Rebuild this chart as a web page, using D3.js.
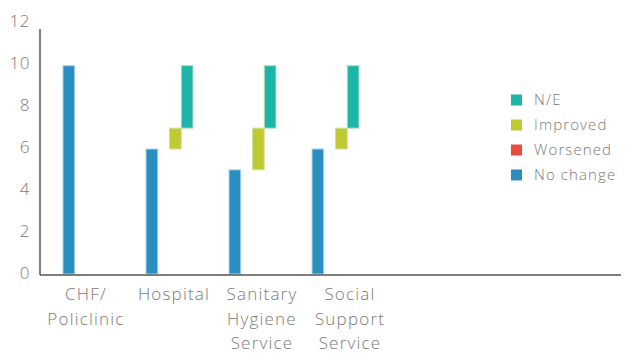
<!DOCTYPE html>
<html><head><meta charset="utf-8">
<script src="https://cdn.jsdelivr.net/npm/d3@7"></script>
<style>body{margin:0;background:#fff}text{font-family:"Open Sans",Lato,sans-serif;fill:#7a7a7a;font-weight:300}</style>
</head><body><svg id="c" width="629" height="353"></svg>
<script>
const categories = [["CHF/","Policlinic"],["Hospital"],["Sanitary","Hygiene","Service"],["Social","Support","Service"]];
const noChange = [10, 6, 5, 6];
const worsened = [0, 0, 0, 0];
const improved = [0, 1, 2, 1];
const notEvaluated = [0, 3, 3, 3];
const yTicks = [0, 2, 4, 6, 8, 10, 12];
const seriesNames = ["No change", "Worsened", "Improved", "N/E"];
const colors = ["#2a8fc0", "#e74c3c", "#bfca33", "#1db5a9"];
const strokes = ["#a9d6ea", "#f5b3ab", "#cfe39a", "#b7e3b0"];
const legendOrder = ["N/E", "Improved", "Worsened", "No change"];

const svg = d3.select("#c");
const slots = d3.range(7);
const x = d3.scaleBand().domain(slots).range([40, 621]).paddingInner(0).paddingOuter(0);
const sub = d3.scaleBand().domain(seriesNames).range([23, 70]);
const labelX = d3.scaleBand().domain(slots).range([42, 658]);
const y = d3.scaleLinear().domain([0, 12]).range([274, 24]);
const yLabel = d3.scaleLinear().domain([0, 12]).range([273, 21]);

// y tick labels
svg.append("g").selectAll("text").data(yTicks).join("text")
  .attr("x", 30).attr("y", d => yLabel(d)).attr("dy", "0.35em")
  .attr("text-anchor", "end").style("font-size", "17px").style("letter-spacing", "0.5px").text(d => d);

// bars
const all = [noChange, worsened, improved, notEvaluated];
categories.forEach((c, i) => {
  let base = 0;
  all.forEach((arr, s) => {
    const v = arr[i];
    const y0 = base, y1 = base + v;
    base = y1;
    if (v <= 0) return;
    svg.append("rect")
      .attr("x", x(i) + sub(seriesNames[s])).attr("width", sub.bandwidth())
      .attr("y", y(y1)).attr("height", y(y0) - y(y1))
      .attr("fill", colors[s]).attr("stroke", strokes[s]).attr("stroke-width", 1);
  });
});

// axes lines
svg.append("line").attr("x1", 40).attr("x2", 40).attr("y1", 29).attr("y2", 275)
  .attr("stroke", "#555").attr("stroke-width", 1.5);
svg.append("line").attr("x1", 40).attr("x2", 621).attr("y1", 275).attr("y2", 275)
  .attr("stroke", "#555").attr("stroke-width", 1.5);

// category labels
categories.forEach((lines, i) => {
  const cx = labelX(i) + labelX.bandwidth() / 2;
  const t = svg.append("text").attr("text-anchor", "middle").style("font-size", "17px")
    .style("letter-spacing", "1.2px").attr("x", cx).attr("y", 300);
  lines.forEach((l, k) => t.append("tspan").attr("x", cx).attr("y", 300 + k * 24.5).text(l));
});

// legend
const lg = svg.append("g");
legendOrder.forEach((n, k) => {
  const s = seriesNames.indexOf(n);
  const cy = 100 + k * 25;
  lg.append("rect").attr("x", 511).attr("y", cy - 5.5).attr("width", 11).attr("height", 11)
    .attr("fill", colors[s]);
  lg.append("text").attr("x", 534).attr("y", cy).attr("dy", "0.35em")
    .style("font-size", "15px").style("letter-spacing", "1.1px").text(n);
});
</script></body></html>
